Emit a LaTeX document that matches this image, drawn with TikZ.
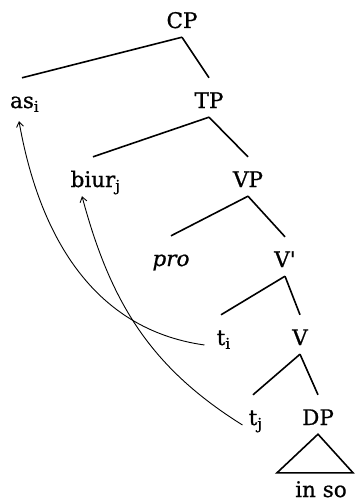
\documentclass[tikz,border=0pt]{standalone}
\usepackage{fontspec}
\setmainfont{DejaVu Serif}[FakeBold=0.8]
\usetikzlibrary{arrows.meta}
\tikzset{
  lbl/.style={anchor=base, inner xsep=0pt, inner ysep=4pt, text height=26pt, text depth=5pt, font=\fontsize{21.5}{24}\selectfont},
  branch/.style={line width=1.6pt},
  move/.style={-{Straight Barb[length=5pt,width=7pt]}, line width=0.9pt},
}
\newcommand{\idx}[1]{\rlap{\textsubscript{#1}}}
\begin{document}
\begin{tikzpicture}[x=1pt,y=-1pt]
\useasboundingbox (0,0) rectangle (357,503);
\node[lbl] (cp) at (182,28) {CP};
\node[lbl] (as) at (22,108) {as\idx{i}};
\node[lbl] (tp) at (209,108) {TP};
\node[lbl] (biur) at (93,187) {biur\idx{j}};
\node[lbl] (vp) at (248,187) {VP};
\node[lbl] (pro) at (171,266) {\itshape pro};
\node[lbl] (vbar) at (285,267) {V\textquotesingle};
\node[lbl] (ti) at (221,345) {t\idx{i}};
\node[lbl] (v) at (300,345) {V};
\node[lbl] (tj) at (253,425) {t\idx{j}};
\node[lbl] (dp) at (318,425) {DP};
\node[lbl] (inso) at (321,497) {in so};
% tree
\draw[branch] (cp.south) -- (as.north);
\draw[branch] (cp.south) -- (tp.north);
\draw[branch] (tp.south) -- (biur.north);
\draw[branch] (tp.south) -- (vp.north);
\draw[branch] (vp.south) -- (pro.north);
\draw[branch] (vp.south) -- (vbar.north);
\draw[branch] (vbar.south) -- (ti.north);
\draw[branch] (vbar.south) -- (v.north);
\draw[branch] (v.south) -- (tj.north);
\draw[branch] (v.south) -- (dp.north);
\draw[branch] (dp.south) -- ([xshift=-44pt,yshift=-6pt]inso.north) -- ([xshift=32pt,yshift=-6pt]inso.north) -- cycle;
% movement
\draw[move] ([xshift=-12pt]ti.base west) to[out=172,in=-80] ([shift={(-3pt,-4pt)}]as.south);
\draw[move] ([xshift=-6pt]tj.base west) to[out=148,in=-75] ([xshift=-11pt]biur.south);
\end{tikzpicture}
\end{document}
